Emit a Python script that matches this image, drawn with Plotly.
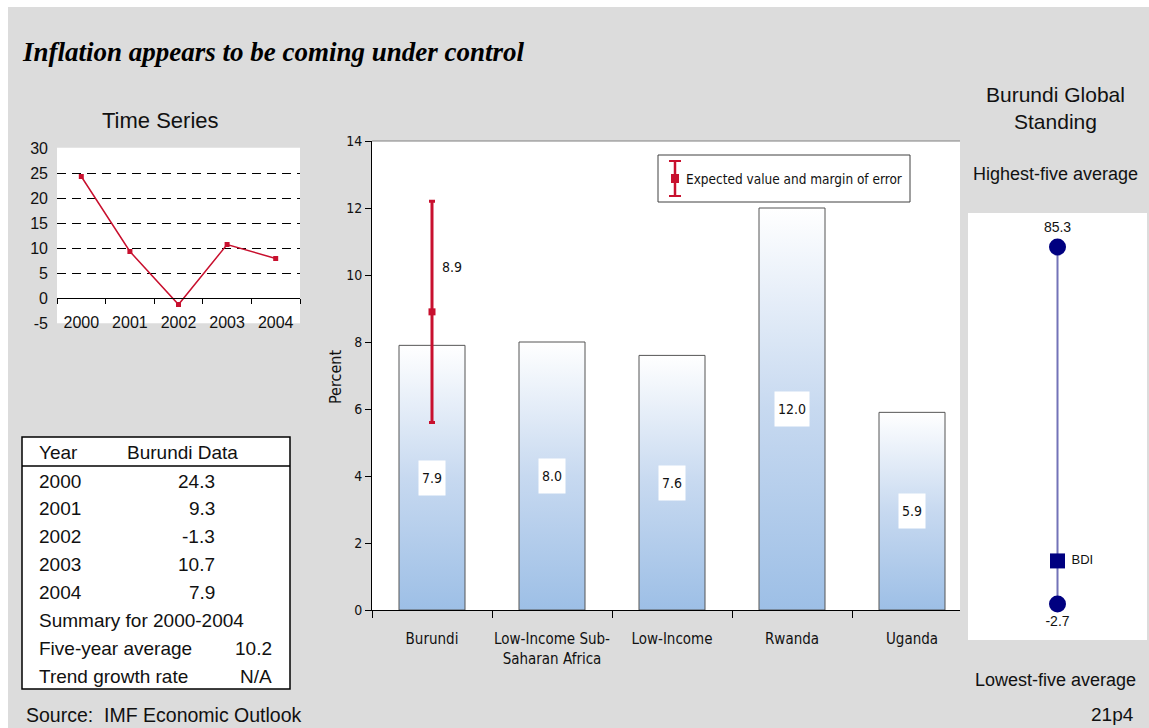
import plotly.graph_objects as go

W, H = 1149, 728

# ---- data -------------------------------------------------------------
ts_years = ["2000", "2001", "2002", "2003", "2004"]
ts_values = [24.3, 9.3, -1.3, 10.7, 7.9]
ts_ticks = [-5, 0, 5, 10, 15, 20, 25, 30]

bar_categories = ["Burundi", "Low-Income Sub-<br>Saharan Africa", "Low-Income", "Rwanda", "Uganda"]
bar_values = [7.9, 8.0, 7.6, 12.0, 5.9]
bar_ticks = [0, 2, 4, 6, 8, 10, 12, 14]

burundi_expected = 8.9
burundi_low = 5.6
burundi_high = 12.2

standing_high = 85.3
standing_low = -2.7
standing_bdi = 7.9
standing_code = "BDI"

summary_average = 10.2
summary_trend = "N/A"

# ---- styling ----------------------------------------------------------
SANS = "Liberation Sans, Arial, sans-serif"
NARROW = "Liberation Sans Narrow, Arial Narrow, DejaVu Sans Condensed, sans-serif"
SERIF = "Liberation Serif, Times New Roman, serif"
RED = "#c8102e"
NAVY = "#000080"
GRAY_BG = "#dcdcdc"
INK = "#111111"


def fx(p):
    return p / W


def fy(p):
    return 1 - p / H


def note(x, y, text, size, family=SANS, xanchor="center", **kw):
    return dict(x=fx(x), y=fy(y), xref="paper", yref="paper", text=text, showarrow=False,
                xanchor=xanchor, yanchor="middle",
                font=dict(family=family, size=size, color=kw.pop("color", INK)), **kw)


fig = go.Figure()

# ---- time series (top-left) ------------------------------------------
ts_x = list(range(len(ts_years)))
fig.add_trace(go.Scatter(
    x=ts_x, y=ts_values, mode="lines+markers",
    line=dict(color=RED, width=1.5),
    marker=dict(symbol="square", size=5, color=RED),
    xaxis="x", yaxis="y", showlegend=False, hoverinfo="x+y",
))

# ---- comparison bars -------------------------------------------------
bar_x = list(range(len(bar_values)))
BAR_W = 0.55
for i, v in zip(bar_x, bar_values):
    fig.add_trace(go.Scatter(
        x=[i - BAR_W / 2, i + BAR_W / 2, i + BAR_W / 2, i - BAR_W / 2, i - BAR_W / 2],
        y=[0, 0, v, v, 0],
        mode="lines", fill="toself",
        fillgradient=dict(type="vertical",
                          colorscale=[[0, "#9dbfe6"], [0.5, "#c7d9f0"], [1, "#ffffff"]]),
        line=dict(width=0), hoverinfo="skip", showlegend=False,
        xaxis="x2", yaxis="y2",
    ))

fig.add_trace(go.Bar(
    x=bar_x, y=bar_values, width=BAR_W,
    marker=dict(color="rgba(0,0,0,0)", line=dict(color="#555555", width=1)),
    xaxis="x2", yaxis="y3", showlegend=False,
))

fig.add_trace(go.Scatter(
    x=[0], y=[burundi_expected], mode="markers",
    marker=dict(symbol="square", size=7, color=RED),
    error_y=dict(type="data", symmetric=False,
                 array=[burundi_high - burundi_expected],
                 arrayminus=[burundi_expected - burundi_low],
                 color=RED, thickness=3, width=3),
    xaxis="x2", yaxis="y3", showlegend=False,
))

# ---- global standing (right) -----------------------------------------
fig.add_trace(go.Scatter(
    x=[0, 0], y=[standing_low, standing_high], mode="lines",
    line=dict(color="#7373b8", width=2),
    xaxis="x4", yaxis="y4", showlegend=False, hoverinfo="skip",
))
fig.add_trace(go.Scatter(
    x=[0], y=[standing_high], mode="markers+text",
    marker=dict(symbol="circle", size=17, color=NAVY),
    text=[f"{standing_high:.1f}"], textposition="top center",
    textfont=dict(family=SANS, size=14, color=INK),
    xaxis="x4", yaxis="y4", showlegend=False,
))
fig.add_trace(go.Scatter(
    x=[0], y=[standing_low], mode="markers+text",
    marker=dict(symbol="circle", size=17, color=NAVY),
    text=[f"{standing_low:.1f}"], textposition="bottom center",
    textfont=dict(family=SANS, size=14, color=INK),
    xaxis="x4", yaxis="y4", showlegend=False,
))
fig.add_trace(go.Scatter(
    x=[0], y=[standing_bdi], mode="markers+text",
    marker=dict(symbol="square", size=15, color=NAVY),
    text=[" " + standing_code], textposition="middle right",
    textfont=dict(family=SANS, size=13, color=INK),
    xaxis="x4", yaxis="y4", showlegend=False,
))

annotations = []
shapes = []

# bar value labels in white boxes
for i, v in zip(bar_x, bar_values):
    annotations.append(dict(
        x=i, y=v / 2, xref="x2", yref="y2", text=f"{v:.1f}", showarrow=False,
        xanchor="center", yanchor="middle",
        font=dict(family=NARROW, size=14, color=INK),
        bgcolor="white", borderpad=3, height=28,
    ))
annotations.append(dict(
    x=0, y=burundi_expected, xref="x2", yref="y2", text=f"{burundi_expected:.1f}",
    showarrow=False, xanchor="left", yanchor="middle", xshift=8, yshift=45,
    font=dict(family=NARROW, size=14, color=INK),
))
annotations.append(note(335, 377, "Percent", 16, family=NARROW, textangle=-90))

# legend box for the error bar
shapes += [
    dict(type="rect", xref="paper", yref="paper", x0=fx(658), x1=fx(910), y0=fy(202), y1=fy(155),
         line=dict(color="#404040", width=1), fillcolor="white", layer="above"),
    dict(type="line", xref="paper", yref="paper", x0=fx(675), x1=fx(675), y0=fy(196), y1=fy(161),
         line=dict(color=RED, width=2.5), layer="above"),
    dict(type="line", xref="paper", yref="paper", x0=fx(669), x1=fx(681), y0=fy(161), y1=fy(161),
         line=dict(color=RED, width=2), layer="above"),
    dict(type="line", xref="paper", yref="paper", x0=fx(669), x1=fx(681), y0=fy(196), y1=fy(196),
         line=dict(color=RED, width=2), layer="above"),
    dict(type="rect", xref="paper", yref="paper", x0=fx(671), x1=fx(679), y0=fy(183), y1=fy(174),
         line=dict(width=0), fillcolor=RED, layer="above"),
]
annotations.append(note(684, 179, "Expected value and margin of error", 13.5,
                        family=NARROW, xanchor="left"))

# top border of the bar plot
shapes.append(dict(type="line", xref="x2 domain", yref="y2 domain", x0=0, x1=1, y0=1, y1=1,
                   line=dict(color="#808080", width=1)))

# white margins around the gray panel
shapes += [
    dict(type="rect", xref="paper", yref="paper", x0=0, x1=1, y0=fy(7), y1=1,
         line=dict(width=0), fillcolor="white", layer="below"),
    dict(type="rect", xref="paper", yref="paper", x0=0, x1=fx(8), y0=0, y1=1,
         line=dict(width=0), fillcolor="white", layer="below"),
]

# ---- data table (bottom-left) ----------------------------------------
TL, TR, TT, TB = 22, 290, 437, 689
shapes += [
    dict(type="rect", xref="paper", yref="paper", x0=fx(TL), x1=fx(TR), y0=fy(TB), y1=fy(TT),
         line=dict(color="black", width=1.5), fillcolor="white", layer="below"),
    dict(type="line", xref="paper", yref="paper", x0=fx(TL), x1=fx(TR), y0=fy(466), y1=fy(466),
         line=dict(color="black", width=1.5)),
]
TSIZE = 19
annotations += [
    note(37, 452, "Year", TSIZE, xanchor="left"),
    note(125, 452, "Burundi Data", TSIZE, xanchor="left"),
]
ROW0, ROWH = 481, 27.9
for k, (yr, val) in enumerate(zip(ts_years, ts_values)):
    yy = ROW0 + k * ROWH
    annotations.append(note(37, yy, yr, TSIZE, xanchor="left"))
    annotations.append(note(217, yy, f"{val:.1f}", TSIZE, xanchor="right"))
summary_rows = [("Summary for 2000-2004", ""),
                ("Five-year average", f"{summary_average:.1f}"),
                ("Trend growth rate", summary_trend)]
for k, (lab, val) in enumerate(summary_rows):
    yy = ROW0 + (5 + k) * ROWH
    annotations.append(note(37, yy, lab, TSIZE, xanchor="left"))
    if val:
        annotations.append(note(274, yy, val, TSIZE, xanchor="right"))

# ---- titles and notes ------------------------------------------------
annotations += [
    note(20, 52, "<b><i>Inflation appears to be coming under control</i></b>", 27,
         family=SERIF, xanchor="left", color="black"),
    note(160, 121, "Time Series", 22),
    note(1055, 108, "Burundi Global<br>Standing", 21),
    note(1055, 174, "Highest-five average", 18),
    note(1055, 680, "Lowest-five average", 18),
    note(24, 715, "Source:  IMF Economic Outlook", 19.5, xanchor="left"),
    note(1112, 714, "21p4", 19),
]

# ---- axes ------------------------------------------------------------
bar_bounds = [i - 0.5 for i in bar_x]
ts_bounds = [i - 0.5 for i in ts_x] + [len(ts_x) - 0.5]
ts_lo, ts_hi = ts_ticks[0] - 0.05, ts_ticks[-1] + 0.05
ts_dom = [fy(323.25), fy(147.75)]
ts_zero_pos = ts_dom[0] + (0 - ts_lo) / (ts_hi - ts_lo) * (ts_dom[1] - ts_dom[0])

fig.update_layout(
    width=W, height=H, margin=dict(l=0, r=0, t=0, b=0, autoexpand=False),
    paper_bgcolor=GRAY_BG, plot_bgcolor="white",
    showlegend=False,
    xaxis=dict(domain=[fx(57), fx(300)], anchor="free", position=ts_zero_pos, automargin=False,
               range=[-0.5, len(ts_x) - 0.5], tickvals=ts_x, ticktext=ts_years,
               ticks="", showline=True, linecolor="black", linewidth=1,
               showgrid=False, zeroline=False, ticklabelstandoff=10,
               tickfont=dict(family=SANS, size=16, color=INK),
               minor=dict(tickvals=ts_bounds, ticks="outside", ticklen=5, tickcolor="black",
                          showgrid=False)),
    yaxis=dict(domain=ts_dom, anchor="x", range=[ts_lo, ts_hi], automargin=False,
               tickvals=ts_ticks, ticktext=[str(t) for t in ts_ticks],
               showgrid=True, gridcolor="black", gridwidth=1, griddash="9px,6px",
               zeroline=False, showline=False, ticks="", ticklabelstandoff=8,
               tickfont=dict(family=SANS, size=16, color=INK)),
    xaxis2=dict(domain=[fx(372), fx(960)], anchor="y2", range=[-0.5, 4.4], automargin=False,
                tickvals=bar_x, ticktext=bar_categories, ticks="",
                showline=True, linecolor="black", linewidth=1, showgrid=False, zeroline=False,
                ticklabelstandoff=15,
                tickfont=dict(family=NARROW, size=15, color=INK),
                minor=dict(tickvals=bar_bounds, ticks="outside", ticklen=7, tickcolor="black",
                           showgrid=False)),
    yaxis2=dict(domain=[fy(610), fy(141)], anchor="x2", range=[bar_ticks[0], bar_ticks[-1]],
                automargin=False, tickvals=bar_ticks, ticks="outside", ticklen=6,
                tickcolor="black",
                showline=True, linecolor="black", linewidth=1, showgrid=False, zeroline=False,
                tickfont=dict(family=NARROW, size=14, color=INK)),
    yaxis3=dict(overlaying="y2", anchor="x2", range=[bar_ticks[0], bar_ticks[-1]],
                automargin=False,
                showticklabels=False, showgrid=False, showline=False, zeroline=False, ticks=""),
    xaxis4=dict(domain=[fx(968), fx(1147)], anchor="y4", range=[-1, 1], visible=False,
                automargin=False),
    yaxis4=dict(domain=[fy(640), fy(213)], anchor="x4", range=[-11.6, 93.7], visible=False,
                automargin=False),
    annotations=annotations,
    shapes=shapes,
)

fig.write_html("out.html")
